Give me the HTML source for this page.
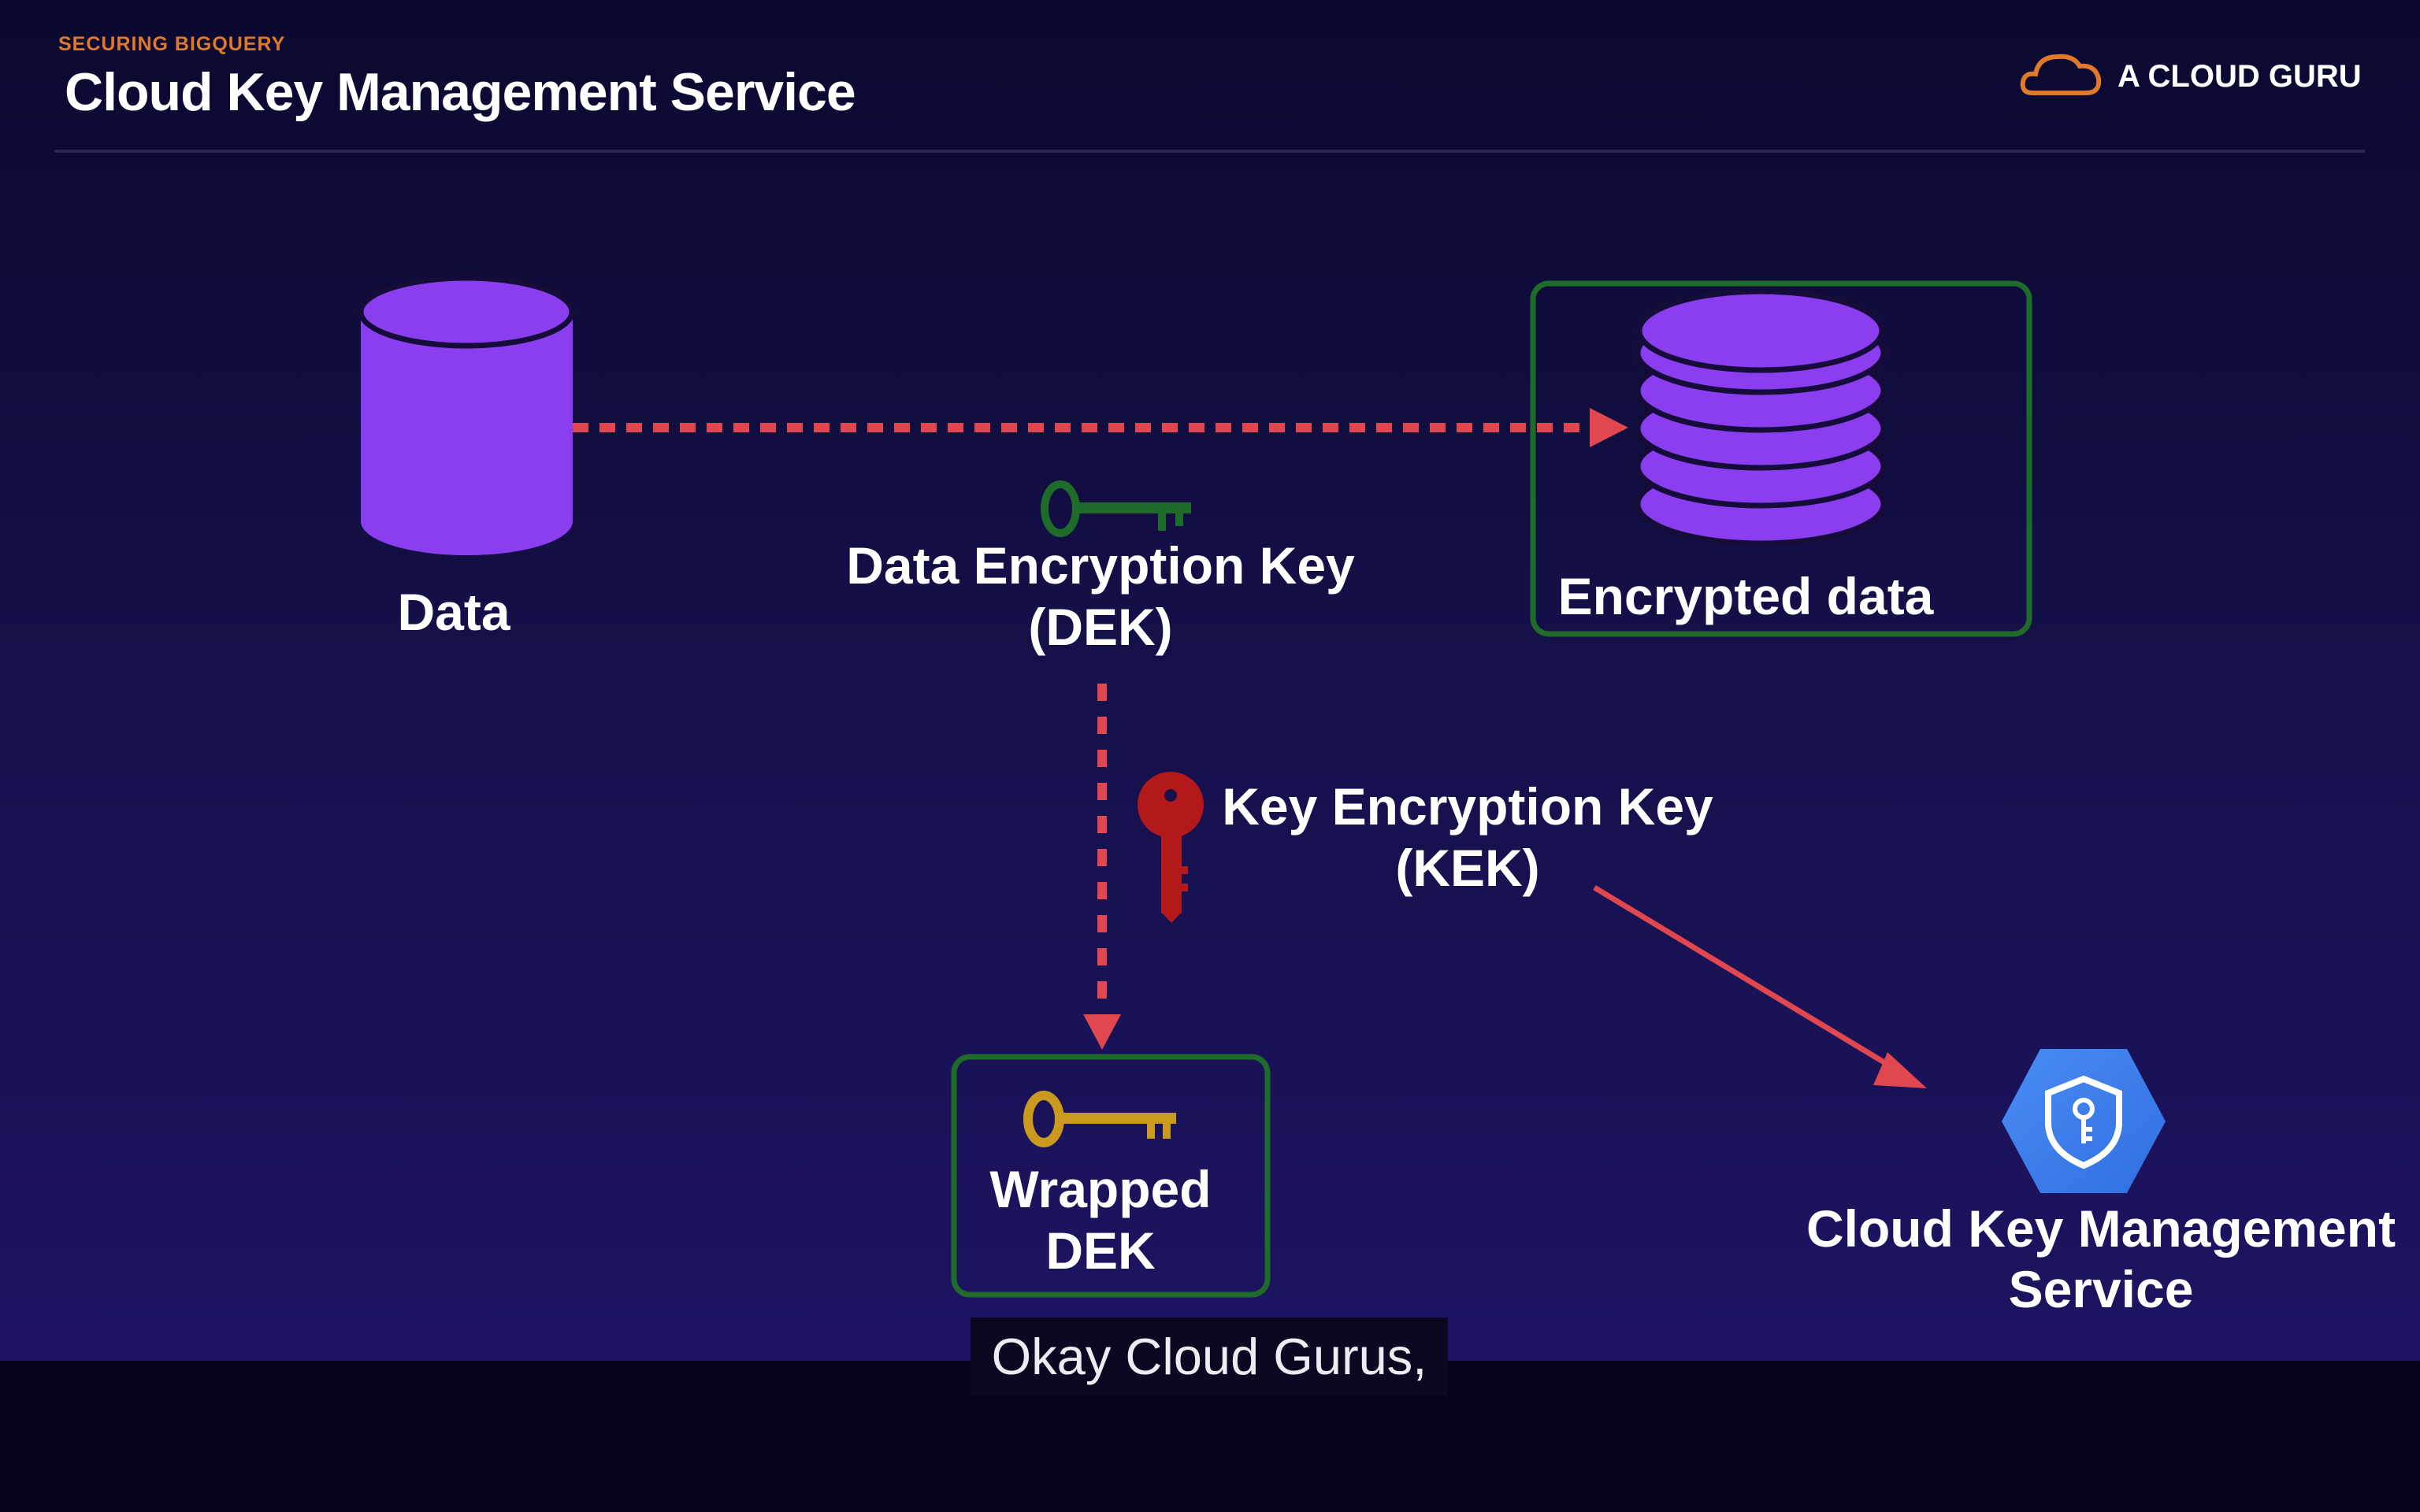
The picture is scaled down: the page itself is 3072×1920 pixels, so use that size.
<!DOCTYPE html>
<html><head><meta charset="utf-8"><style>
html,body{margin:0;padding:0;width:3072px;height:1920px;overflow:hidden;background:#05031a}
svg{display:block}
text{font-family:"Liberation Sans",sans-serif;font-weight:bold;fill:#fff}
</style></head><body>
<svg width="3072" height="1920" viewBox="0 0 3072 1920" xmlns="http://www.w3.org/2000/svg">
<defs>
<linearGradient id="bg" x1="0" y1="0" x2="0" y2="1">
<stop offset="0" stop-color="#0b0930"/><stop offset="0.5" stop-color="#15104a"/><stop offset="1" stop-color="#1e1463"/>
</linearGradient>
<linearGradient id="hex" x1="0" y1="0" x2="1" y2="1">
<stop offset="0" stop-color="#4a8cf5"/><stop offset="1" stop-color="#2f6fe0"/>
</linearGradient>
</defs>
<rect x="0" y="0" width="3072" height="1728" fill="url(#bg)"/>
<rect x="0" y="1728" width="3072" height="192" fill="#05031a"/>

<text x="74" y="64" font-size="25" style="fill:#e07a2a" letter-spacing="1">SECURING BIGQUERY</text>
<text x="82" y="140" font-size="68" letter-spacing="-1">Cloud Key Management Service</text>
<line x1="69" y1="192" x2="3002" y2="192" stroke="#2a2656" stroke-width="4"/>
<g fill="none" stroke="#e07a2a" stroke-width="6">
<path d="M2580 118 Q2566 118 2568 104 Q2570 92 2584 94 Q2588 72 2612 72 Q2632 70 2640 84 Q2660 82 2664 100 Q2666 118 2648 118 Z"/>
</g>
<text x="2688" y="110" font-size="40">A CLOUD GURU</text>

<path d="M458 396 L458 662 A134 43 0 0 0 727 662 L727 396 Z" fill="#8a3ef0"/>
<ellipse cx="592" cy="396" rx="134" ry="43" fill="#8a3ef0" stroke="#150c3a" stroke-width="7"/>
<text x="576" y="800" font-size="66" text-anchor="middle">Data</text>

<line x1="727" y1="543" x2="2020" y2="543" stroke="#e0474f" stroke-width="12" stroke-dasharray="20 14"/>
<polygon points="2018,518 2067,543 2018,568" fill="#e0474f"/>

<rect x="1946" y="360" width="630" height="445" rx="20" fill="none" stroke="#1f6b2a" stroke-width="7"/>
<g fill="#8a3ef0" stroke="#150c3a" stroke-width="7">
<ellipse cx="2235" cy="640" rx="156" ry="50"/>
<ellipse cx="2235" cy="592" rx="156" ry="50"/>
<ellipse cx="2235" cy="544" rx="156" ry="50"/>
<ellipse cx="2235" cy="496" rx="156" ry="50"/>
<ellipse cx="2235" cy="448" rx="156" ry="50"/>
<ellipse cx="2235" cy="420" rx="154" ry="50"/>
</g>
<text x="2216" y="780" font-size="66" text-anchor="middle">Encrypted data</text>

<g fill="#1f6b2a">
<ellipse cx="1346" cy="646" rx="20" ry="31" fill="none" stroke="#1f6b2a" stroke-width="10"/>
<rect x="1364" y="638" width="148" height="14"/>
<rect x="1470" y="648" width="10" height="26"/>
<rect x="1492" y="648" width="10" height="20"/>
</g>
<text x="1397" y="741" font-size="66" text-anchor="middle">Data Encryption Key</text>
<text x="1397" y="819" font-size="66" text-anchor="middle">(DEK)</text>

<line x1="1399" y1="868" x2="1399" y2="1290" stroke="#e0474f" stroke-width="12" stroke-dasharray="22 20"/>
<polygon points="1375,1288 1423,1288 1399,1333" fill="#e0474f"/>

<g fill="#b3191b">
<circle cx="1486" cy="1022" r="42"/>
<rect x="1474" y="1050" width="26" height="110"/>
<polygon points="1474,1158 1500,1158 1487,1172"/>
<rect x="1496" y="1100" width="12" height="10"/><rect x="1496" y="1122" width="12" height="10"/>
</g>
<circle cx="1486" cy="1010" r="8" fill="#1a1048"/>
<text x="1863" y="1047" font-size="66" text-anchor="middle">Key Encryption Key</text>
<text x="1863" y="1125" font-size="66" text-anchor="middle">(KEK)</text>

<line x1="2024" y1="1127" x2="2410" y2="1360" stroke="#e0474f" stroke-width="7"/>
<polygon points="2396,1336 2446,1382 2378,1378" fill="#e0474f"/>

<rect x="1211" y="1342" width="398" height="302" rx="20" fill="none" stroke="#1f6b2a" stroke-width="7"/>
<g fill="#c99a1e">
<ellipse cx="1325" cy="1421" rx="20" ry="30" fill="none" stroke="#c99a1e" stroke-width="12"/>
<rect x="1343" y="1413" width="150" height="14"/>
<rect x="1456" y="1422" width="10" height="24"/>
<rect x="1476" y="1422" width="10" height="24"/>
</g>
<text x="1397" y="1533" font-size="66" text-anchor="middle">Wrapped</text>
<text x="1397" y="1611" font-size="66" text-anchor="middle">DEK</text>

<polygon points="2590,1332 2700,1332 2749,1424 2700,1515 2590,1515 2541,1424" fill="url(#hex)"/>
<path d="M2645 1370 L2690 1388 L2690 1428 Q2688 1462 2645 1480 Q2602 1462 2600 1428 L2600 1388 Z" fill="none" stroke="#fff" stroke-width="8"/>
<circle cx="2645" cy="1408" r="11" fill="none" stroke="#fff" stroke-width="6"/>
<path d="M2645 1419 L2645 1452 M2645 1434 L2656 1434 M2645 1446 L2656 1446" stroke="#fff" stroke-width="6" fill="none"/>
<text x="2667" y="1583" font-size="66" text-anchor="middle">Cloud Key Management</text>
<text x="2667" y="1660" font-size="66" text-anchor="middle">Service</text>

<rect x="1232" y="1673" width="606" height="100" fill="#0b0822"/>
<text x="1535" y="1745" font-size="65" text-anchor="middle" style="font-weight:normal;fill:#ececf2">Okay Cloud Gurus,</text>
</svg>
</body></html>
